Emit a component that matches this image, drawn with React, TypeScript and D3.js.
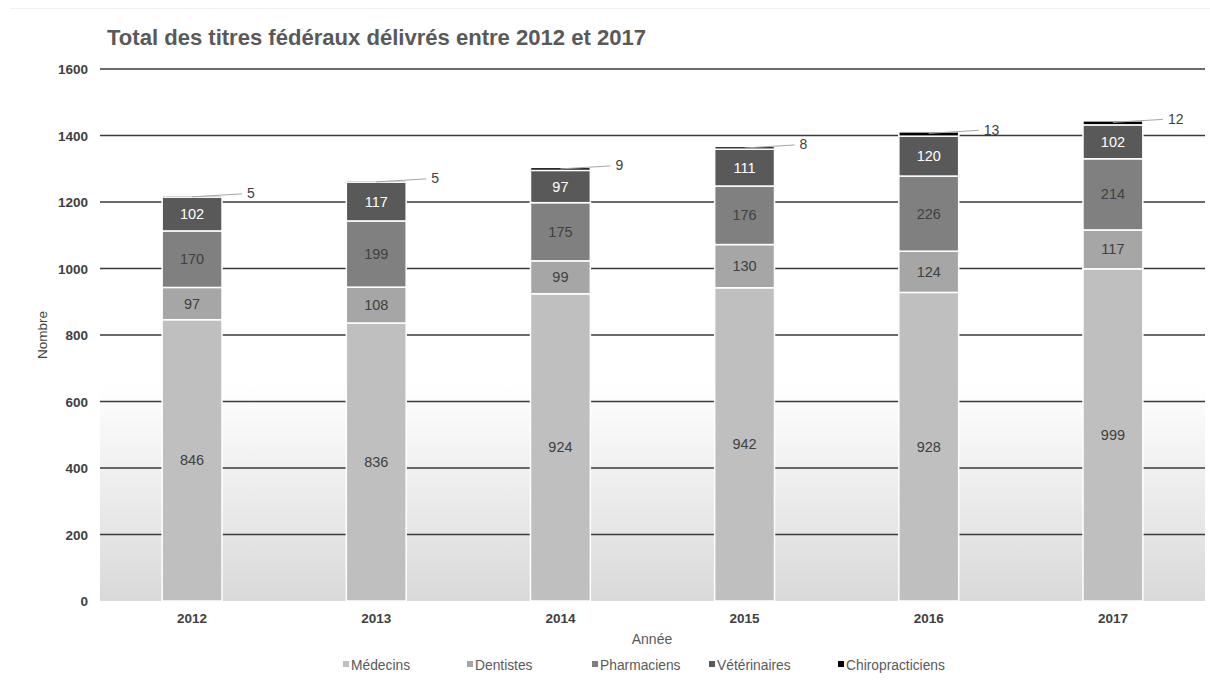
import * as React from "react"
import * as d3 from "d3"

const years = ["2012", "2013", "2014", "2015", "2016", "2017"]
const seriesNames = ["Médecins", "Dentistes", "Pharmaciens", "Vétérinaires", "Chiropracticiens"]
const medecins = [846, 836, 924, 942, 928, 999]
const dentistes = [97, 108, 99, 130, 124, 117]
const pharmaciens = [170, 199, 175, 176, 226, 214]
const veterinaires = [102, 117, 97, 111, 120, 102]
const chiropracticiens = [5, 5, 9, 8, 13, 12]
const yTicks = [0, 200, 400, 600, 800, 1000, 1200, 1400, 1600]

const colors = ["#bfbfbf", "#a6a6a6", "#808080", "#595959", "#000000"]
const labelColors = ["#404040", "#404040", "#404040", "#ffffff", "#404040"]

export default function App() {
    const W = 1210
    const H = 687
    const x = d3.scaleBand<string>().domain(years).range([100, 1205]).paddingInner(0.675).paddingOuter(0.3375)
    const y = d3.scaleLinear().domain([0, 1600]).range([601, 69])

    const table = years.map((yr, i) => ({
        year: yr,
        "Médecins": medecins[i],
        "Dentistes": dentistes[i],
        "Pharmaciens": pharmaciens[i],
        "Vétérinaires": veterinaires[i],
        "Chiropracticiens": chiropracticiens[i],
    }))
    const stacked = d3.stack<any>().keys(seriesNames)(table)

    const font = "'Liberation Sans', Arial, sans-serif"
    const legendX = [343, 467, 592, 709, 838]

    return (
        <svg width={W} height={H} style={{ position: "absolute", left: 0, top: 0, background: "#fff" }} fontFamily={font}>
            <defs>
                <linearGradient id="bg-grad" x1="0" x2="0" y1="0" y2="1">
                    <stop offset="0%" stopColor="#ffffff" />
                    <stop offset="100%" stopColor="#d9d9d9" />
                </linearGradient>
            </defs>
            <line x1={10} x2={1210} y1={8.5} y2={8.5} stroke="#f0f0f0" strokeWidth={1} />

            <text x={107} y={45} fontSize={22} fontWeight="bold" fill="#595959" textLength={539} lengthAdjust="spacingAndGlyphs">
                Total des titres fédéraux délivrés entre 2012 et 2017
            </text>

            {/* gradient background lower part */}
            <rect x={100} y={y(650)} width={1105} height={y(0) - y(650)} fill="url(#bg-grad)" />

            {/* gridlines */}
            {yTicks.filter(t => t > 0).map(t => (
                <line key={t} x1={100} x2={1205} y1={y(t)} y2={y(t)} stroke="#3a3a3a" strokeWidth={1.6} />
            ))}
            {yTicks.map(t => (
                <text key={"l" + t} x={88} y={y(t) + 5} textAnchor="end" fontSize={13.5} fontWeight="bold" fill="#404040">{t}</text>
            ))}

            {/* bars */}
            {stacked.map((s, si) => (
                <g key={s.key}>
                    {s.map((d, i) => (
                        <rect key={i}
                            x={x(years[i])!}
                            y={y(d[1])}
                            width={x.bandwidth()}
                            height={y(d[0]) - y(d[1])}
                            fill={colors[si]}
                            stroke="#ffffff"
                            strokeWidth={1.5} />
                    ))}
                </g>
            ))}

            {/* inside labels */}
            {stacked.slice(0, 4).map((s, si) => (
                <g key={"t" + s.key}>
                    {s.map((d, i) => (
                        <text key={i}
                            x={x(years[i])! + x.bandwidth() / 2}
                            y={(y(d[0]) + y(d[1])) / 2 + 5}
                            textAnchor="middle"
                            fontSize={14.5}
                            fill={labelColors[si]}>
                            {d[1] - d[0]}
                        </text>
                    ))}
                </g>
            ))}

            {/* chiropracticiens leader labels */}
            {stacked[4].map((d, i) => {
                const cx = x(years[i])! + x.bandwidth() / 2
                const ty = y(d[1])
                return (
                    <g key={"c" + i}>
                        <line x1={cx} y1={ty + 1.5} x2={cx + 50} y2={ty - 1.5} stroke="#a6a6a6" strokeWidth={1} />
                        <text x={cx + 55} y={ty + 3} fontSize={14} fill="#404040">{d[1] - d[0]}</text>
                    </g>
                )
            })}

            {/* x labels */}
            {years.map(yr => (
                <text key={yr} x={x(yr)! + x.bandwidth() / 2} y={623} textAnchor="middle" fontSize={13.5} fontWeight="bold" fill="#404040">{yr}</text>
            ))}

            <text x={652} y={644} textAnchor="middle" fontSize={14} fill="#595959">Année</text>
            <text transform={`translate(47,${y(800)}) rotate(-90)`} textAnchor="middle" fontSize={13.5} fill="#404040">Nombre</text>

            {/* legend */}
            {seriesNames.map((n, i) => (
                <g key={n} transform={`translate(${legendX[i]},665)`}>
                    <rect x={0} y={-4} width={6} height={6} fill={colors[i]} />
                    <text x={8} y={4.5} fontSize={13.8} fill="#595959">{n}</text>
                </g>
            ))}
        </svg>
    )
}
